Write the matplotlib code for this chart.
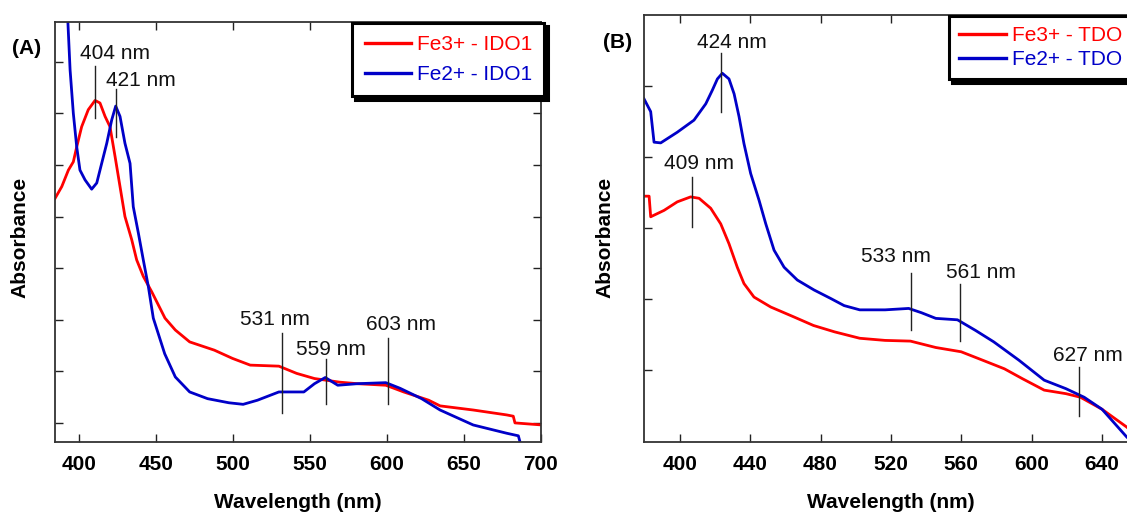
import matplotlib
matplotlib.use("Agg")
import matplotlib.pyplot as plt
import numpy as np

plt.rcParams['font.family'] = ['Liberation Sans', 'DejaVu Sans']

# ---------------- Panel A (IDO1) ----------------
ido_fe3_wl = [384.6, 389, 393.3, 396.5, 398.7, 401.9, 406.2, 410.6, 413.8, 417.1, 420.3, 423.6, 426.8,
              430, 434.4, 437.6, 441.9, 447.4, 456, 462.7, 472, 488, 499.8, 511.3, 529.9, 541.4, 553,
              569.2, 580.8, 599.3, 610.9, 627.1, 634.5, 656, 677.7, 682.0, 683.1, 700.7]
ido_fe3_ab = [0.435, 0.458, 0.490, 0.506, 0.535, 0.574, 0.607, 0.625, 0.620, 0.594, 0.574, 0.516, 0.458,
              0.400, 0.355, 0.316, 0.284, 0.254, 0.203, 0.180, 0.157, 0.141, 0.125, 0.112, 0.110, 0.096, 0.086,
              0.079, 0.076, 0.073, 0.060, 0.044, 0.033, 0.025, 0.0155, 0.013, 0.000, -0.004]

ido_fe2_wl = [391.5, 392.9, 394.4, 396.5, 398.7, 400.8, 404.1, 408.4, 411.7, 414.9, 418.2, 421.4, 424,
              426.8, 430, 433.3, 435.4, 438.7, 441.9, 445.2, 448.4, 455.8, 462.7, 472, 483.6, 497.5,
              506.7, 516, 529.9, 546.1, 553, 560, 568.1, 580.8, 599.3, 608.6, 622.5, 634.5, 656, 677.7,
              685.3, 686.4]
ido_fe2_ab = [0.85, 0.781, 0.684, 0.600, 0.535, 0.490, 0.471, 0.453, 0.465, 0.503, 0.542, 0.587, 0.614,
              0.594, 0.542, 0.503, 0.419, 0.368, 0.316, 0.264, 0.203, 0.134, 0.089, 0.060, 0.047, 0.039,
              0.036, 0.044, 0.060, 0.060, 0.076, 0.088, 0.073, 0.076, 0.078, 0.067, 0.047, 0.025, -0.004, -0.020,
              -0.025, -0.037]

ido_labels = ["404 nm", "421 nm", "531 nm", "559 nm", "603 nm"]
ido_mark_wl = [410.6, 424.2, 532.2, 560.6, 600.9]
ido_mark_lo = [0.590, 0.555, 0.020, 0.037, 0.036]
ido_mark_hi = [0.692, 0.647, 0.175, 0.123, 0.165]
ido_text_wl = [423.6, 440.4, 527.5, 563.4, 609.0]
ido_text_ab = [0.716, 0.663, 0.200, 0.142, 0.191]
ido_xticks = [400, 450, 500, 550, 600, 650, 700]

# ---------------- Panel B (TDO) ----------------
tdo_fe3_wl = [379.7, 382.6, 383.5, 391.1, 398.6, 406.2, 411, 417.6, 423.3, 428, 432.7, 436.5, 442.2,
              451.7, 464.9, 476, 488, 502.3, 516.7, 531.1, 545.5, 559.9, 570.2, 584.5, 594.8, 607.1,
              619.5, 627.7, 640, 654, 670]
tdo_fe3_ab = [0.245, 0.245, 0.216, 0.225, 0.237, 0.244, 0.242, 0.228, 0.206, 0.178, 0.145, 0.122, 0.103,
              0.089, 0.075, 0.063, 0.054, 0.045, 0.042, 0.041, 0.032, 0.026, 0.016, 0.002, -0.012, -0.028,
              -0.033, -0.038, -0.055, -0.080, -0.115]

tdo_fe2_wl = [379.7, 383.5, 385.4, 389.2, 398.6, 408.1, 414.8, 418.5, 421.4, 424.2, 428, 430.9, 433.7,
              436.5, 440.3, 445.1, 448.9, 453.6, 459.3, 466.8, 476.3, 485.8, 493.4, 502.3, 516.7, 530.1,
              537.3, 545.5, 557.8, 568.1, 578.4, 592.8, 607.1, 619.5, 629.8, 640, 654, 670]
tdo_fe2_ab = [0.382, 0.364, 0.321, 0.320, 0.335, 0.352, 0.375, 0.394, 0.410, 0.418, 0.410, 0.389, 0.357,
              0.319, 0.277, 0.239, 0.206, 0.169, 0.145, 0.127, 0.113, 0.101, 0.091, 0.085, 0.085, 0.087,
              0.081, 0.073, 0.071, 0.056, 0.040, 0.014, -0.014, -0.026, -0.038, -0.055, -0.094, -0.13]

tdo_labels = ["424 nm", "409 nm", "533 nm", "561 nm", "627 nm"]
tdo_mark_wl = [423.6, 407.2, 531.5, 559.5, 626.6]
tdo_mark_lo = [0.364, 0.202, 0.056, 0.041, -0.065]
tdo_mark_hi = [0.446, 0.272, 0.137, 0.122, 0.004]
tdo_text_wl = [429.4, 411.0, 522.9, 571.2, 631.8]
tdo_text_ab = [0.461, 0.291, 0.160, 0.138, 0.021]
tdo_xticks = [400, 440, 480, 520, 560, 600, 640]

RED = '#ff0000'
BLUE = '#0000c8'

fig = plt.figure(figsize=(11.27, 5.14), dpi=100)
W, H = 1127.0, 514.0


def px_axes(l, t, r, b):
    return fig.add_axes([l / W, 1 - b / H, (r - l) / W, (b - t) / H])


axA = px_axes(55.3, 22, 541, 442)
axB = px_axes(644, 15, 1207.7, 442)

FS = 15


def style(ax, xticks, yticks, xlim, ylim):
    ax.set_xlim(*xlim)
    ax.set_ylim(*ylim)
    ax.set_xticks(xticks)
    ax.set_yticks(yticks)
    ax.set_yticklabels([])
    ax.tick_params(direction='in', length=6, width=1, top=True, right=True,
                   labelsize=FS, pad=9, color='#222222')
    for lbl in ax.get_xticklabels():
        lbl.set_fontweight('bold')
    for s in ax.spines.values():
        s.set_linewidth(1.3)
        s.set_color('#333333')


def draw(ax, r_wl, r_ab, b_wl, b_ab, rlab, blab, labels, mwl, mlo, mhi, twl, tab):
    ax.plot(r_wl, r_ab, color=RED, lw=2.0, label=rlab, solid_joinstyle='round')
    ax.plot(b_wl, b_ab, color=BLUE, lw=2.0, label=blab, solid_joinstyle='round')
    for lab, x, lo, hi, tx, ty in zip(labels, mwl, mlo, mhi, twl, tab):
        ax.plot([x, x], [lo, hi], color='#222222', lw=1.0)
        ax.text(tx, ty, lab, ha='center', va='center', fontsize=FS, color='#111111')


draw(axA, ido_fe3_wl, ido_fe3_ab, ido_fe2_wl, ido_fe2_ab, 'Fe3+ - IDO1', 'Fe2+ - IDO1',
     ido_labels, ido_mark_wl, ido_mark_lo, ido_mark_hi, ido_text_wl, ido_text_ab)
draw(axB, tdo_fe3_wl, tdo_fe3_ab, tdo_fe2_wl, tdo_fe2_ab, 'Fe3+ - TDO', 'Fe2+ - TDO',
     tdo_labels, tdo_mark_wl, tdo_mark_lo, tdo_mark_hi, tdo_text_wl, tdo_text_ab)

style(axA, ido_xticks, np.arange(0, 0.71, 0.1), (384.8, 700), (-0.037, 0.777))
style(axB, tdo_xticks, np.arange(0, 0.41, 0.1), (379.7, 700), (-0.101, 0.5))

# axis labels (positions in pixels -> axes coords)
for ax, l, r, t, b, cx, cy in [(axA, 55.3, 541, 22, 442, 298, 502.5),
                                (axB, 644, 1207.7, 15, 442, 891, 502.5)]:
    ax.set_xlabel('Wavelength (nm)', fontsize=FS, fontweight='bold')
    ax.xaxis.set_label_coords((cx - l) / (r - l), (b - cy) / (b - t))
    ax.xaxis.label.set_va('center')
for ax, l, r, t, b, cx, cy in [(axA, 55.3, 541, 22, 442, 19.6, 237),
                                (axB, 644, 1207.7, 15, 442, 605, 237)]:
    ax.set_ylabel('Absorbance', fontsize=FS, fontweight='bold')
    ax.yaxis.set_label_coords((cx - l) / (r - l), (b - cy) / (b - t))
    ax.yaxis.label.set_va('center')

fig.text(26.8 / W, 1 - 49 / H, '(A)', fontsize=FS, fontweight='bold', ha='center', va='center')
fig.text(618 / W, 1 - 43 / H, '(B)', fontsize=FS, fontweight='bold', ha='center', va='center')

for ax, anchor, lsp, bpad in [(axA, (352 / W, 1 - 23 / H), 0.5, 0.6),
                              (axB, (949 / W, 1 - 16 / H), 0.22, 0.5)]:
    leg = ax.legend(loc='upper left', bbox_to_anchor=anchor, bbox_transform=fig.transFigure,
                    borderaxespad=0,
                    fontsize=FS, handlelength=2.25, handletextpad=0.25, labelspacing=lsp,
                    borderpad=bpad, fancybox=False, framealpha=1, edgecolor='black',
                    labelcolor='linecolor',
                    shadow={'color': 'black', 'ox': 2.5, 'oy': -2.5, 'alpha': 1})
    leg.get_frame().set_linewidth(2.2)
    for ln in leg.get_lines():
        ln.set_linewidth(2.4)

fig.savefig('out.png', dpi=100)
